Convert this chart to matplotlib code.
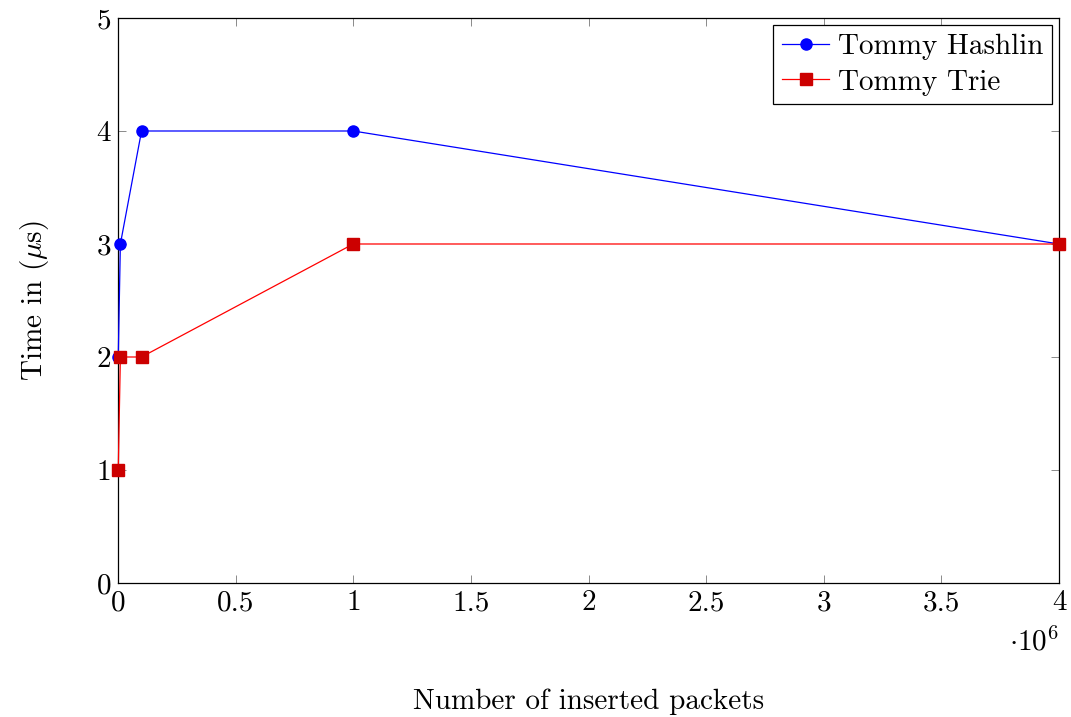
import matplotlib
matplotlib.use('Agg')
import matplotlib.pyplot as plt

plt.rcParams['font.family'] = 'serif'
plt.rcParams['font.serif'] = ['cmr10']
plt.rcParams['mathtext.fontset'] = 'cm'
plt.rcParams['axes.unicode_minus'] = False

# data
hash_x = [1000, 10000, 100000, 1000000, 4000000]
hash_y = [2, 3, 4, 4, 3]
trie_x = [1000, 10000, 100000, 1000000, 4000000]
trie_y = [1, 2, 2, 3, 3]
xticks = [0, 0.5e6, 1e6, 1.5e6, 2e6, 2.5e6, 3e6, 3.5e6, 4e6]
xtick_labels = ['0', '0.5', '1', '1.5', '2', '2.5', '3', '3.5', '4']
yticks = [0, 1, 2, 3, 4, 5]

fs = 21

fig = plt.figure(figsize=(10.71, 7.17), dpi=100)
ax = fig.add_axes([0.1102, 0.1869, 0.8786, 0.788])

ax.plot(hash_x, hash_y, color='blue', lw=0.9, marker='o', ms=8,
        mfc='blue', mec='blue', label='Tommy Hashlin', clip_on=False, zorder=3)
ax.plot(trie_x, trie_y, color='red', lw=0.9, marker='s', ms=8,
        mfc='#cc0000', mec='#cc0000', label='Tommy Trie', clip_on=False, zorder=3)

ax.set_xlim(0, 4e6)
ax.set_ylim(0, 5)
ax.set_xticks(xticks)
ax.set_xticklabels(xtick_labels)
ax.set_yticks(yticks)
ax.set_yticklabels([str(v) for v in yticks])
ax.tick_params(direction='in', length=6, width=0.6, color='#777777',
               top=True, right=True, labelsize=fs, pad=5)
for s in ax.spines.values():
    s.set_linewidth(0.9)

ax.set_xlabel('Number of inserted packets', fontsize=fs, labelpad=52)
ax.set_ylabel(r'Time in ($\mu$s)', fontsize=fs, labelpad=33)
ax.text(1.0, -0.105, r'$\cdot 10^6$', transform=ax.transAxes, fontsize=fs,
        ha='right', va='center')

leg = ax.legend(loc='upper right', fontsize=fs, fancybox=False, framealpha=1,
                edgecolor='black', handlelength=1.6, borderpad=0.3,
                labelspacing=0.3, handletextpad=0.3, borderaxespad=0.25)
leg.get_frame().set_linewidth(0.9)

fig.savefig('out.png', dpi=100)
